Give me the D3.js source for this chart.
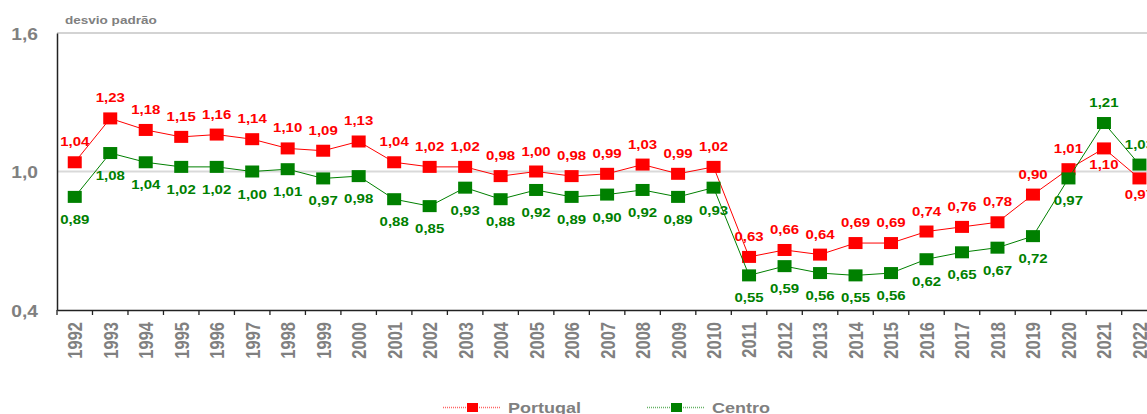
<!DOCTYPE html>
<html>
<head>
<meta charset="utf-8">
<script src="https://cdn.jsdelivr.net/npm/d3@7"></script>
<style>
  html, body { margin: 0; padding: 0; background: #fff; overflow: hidden; }
  svg { display: block; }
  text { font-family: "Liberation Sans", Arial, sans-serif; font-weight: bold; }
</style>
</head>
<body>
<svg id="chart" width="1147" height="414"></svg>
<script>
// Desvio padrão, 1992–2022
const years = [1992,1993,1994,1995,1996,1997,1998,1999,2000,2001,2002,2003,2004,2005,2006,2007,
               2008,2009,2010,2011,2012,2013,2014,2015,2016,2017,2018,2019,2020,2021,2022];
const portugal = [1.04,1.23,1.18,1.15,1.16,1.14,1.10,1.09,1.13,1.04,1.02,1.02,0.98,1.00,0.98,0.99,
                  1.03,0.99,1.02,0.63,0.66,0.64,0.69,0.69,0.74,0.76,0.78,0.90,1.01,1.10,0.97];
const centro = [0.89,1.08,1.04,1.02,1.02,1.00,1.01,0.97,0.98,0.88,0.85,0.93,0.88,0.92,0.89,0.90,
                0.92,0.89,0.93,0.55,0.59,0.56,0.55,0.56,0.62,0.65,0.67,0.72,0.97,1.21,1.03];
const yTicks = [0.4, 1.0, 1.6];
const seriesNames = ["Portugal", "Centro"];
const yTitle = "desvio padrão";

// years whose value label sits on the opposite side of the default
const portugalBelow = [2021, 2022];
const centroAbove = [2021, 2022];

const W = 1147, H = 414;
const RED = "#ff0000", GREEN = "#008000", GREY = "#808080";
const SX = 1.23; // horizontal glyph stretch

const fmt = v => d3.format(".2f")(v).replace(".", ",");

const svg = d3.select("#chart");

const plotLeft = 57, step = 35.49, plotTop = 33, plotBottom = 310;
const x = d3.scaleBand().domain(years).range([plotLeft, plotLeft + step * years.length]).padding(0);
const cx = d => x(d) + x.bandwidth() / 2;
const y = d3.scaleLinear().domain([0.4, 1.6]).range([plotBottom, plotTop]);

// top frame line and 1,0 gridline
svg.append("line").attr("x1", plotLeft).attr("x2", W + 20).attr("y1", y(1.6)).attr("y2", y(1.6))
  .attr("stroke", "#c4c4c4").attr("stroke-width", 1.3);
svg.append("line").attr("x1", plotLeft).attr("x2", W + 20).attr("y1", y(1.0)).attr("y2", y(1.0))
  .attr("stroke", "#d9d9d9").attr("stroke-width", 2);

// y axis
const yAxis = svg.append("g").attr("transform", `translate(${plotLeft},0)`)
  .call(d3.axisLeft(y).tickValues(yTicks).tickSize(0).tickFormat(v => d3.format(".1f")(v).replace(".", ",")));
yAxis.select(".domain").attr("stroke", "#222").attr("stroke-width", 1.5);
yAxis.selectAll("text")
  .attr("x", 0).attr("dy", null)
  .attr("transform", "translate(-19,6) scale(1.2,1)")
  .attr("fill", GREY).style("font-size", "16px").attr("text-anchor", "end")
  .style("font-family", "'Liberation Sans', Arial, sans-serif").style("font-weight", "bold");

// x axis (labels at band centres, ticks at band edges)
const xAxis = svg.append("g").attr("transform", `translate(0,${plotBottom})`)
  .call(d3.axisBottom(x).tickSize(0).tickSizeOuter(0));
xAxis.select(".domain").attr("stroke", "#222").attr("stroke-width", 1.5);
xAxis.selectAll("text")
  .attr("x", 0).attr("y", 0).attr("dy", "0.36em")
  .attr("transform", "translate(0,12) rotate(-90) scale(1,1.25)")
  .attr("text-anchor", "end").attr("fill", GREY)
  .style("font-size", "16.5px")
  .style("font-family", "'Liberation Sans', Arial, sans-serif").style("font-weight", "bold");
xAxis.selectAll(".edge").data(years.concat(["end"])).enter().append("line")
  .attr("class", "edge")
  .attr("x1", d => d === "end" ? x.range()[1] : x(d))
  .attr("x2", d => d === "end" ? x.range()[1] : x(d))
  .attr("y1", 0).attr("y2", 5).attr("stroke", "#222").attr("stroke-width", 1.3);

// axis title
svg.append("text").attr("transform", `translate(65,24) scale(${SX},1)`)
  .attr("fill", GREY).style("font-size", "11px").text(yTitle);

// series
const line = d3.line().x((d, i) => cx(years[i])).y(d => y(d));
function drawSeries(values, color) {
  svg.append("path").datum(values).attr("d", line)
    .attr("fill", "none").attr("stroke", color).attr("stroke-width", 1);
  svg.append("g").selectAll("rect").data(values).enter().append("rect")
    .attr("x", (d, i) => cx(years[i]) - 7).attr("y", d => y(d) - 6)
    .attr("width", 14).attr("height", 12).attr("fill", color);
}
drawSeries(portugal, RED);
drawSeries(centro, GREEN);

function drawLabels(values, color, flipped, defaultAbove) {
  svg.append("g").selectAll("text").data(values).enter().append("text")
    .attr("transform", (d, i) => {
      const yr = years[i];
      const isFlipped = flipped.includes(yr);
      const above = isFlipped ? !defaultAbove : defaultAbove;
      let dy;
      if (above) dy = -16;
      else dy = isFlipped ? 21 : 27;
      return `translate(${cx(yr)},${y(d) + dy}) scale(${SX},1)`;
    })
    .attr("text-anchor", "middle").attr("fill", color).style("font-size", "12.2px")
    .text(d => fmt(d));
}
drawLabels(portugal, RED, portugalBelow, true);
drawLabels(centro, GREEN, centroAbove, false);

// legend
const legend = [
  { name: seriesNames[0], color: RED, x0: 443 },
  { name: seriesNames[1], color: GREEN, x0: 647 }
];
const lg = svg.append("g");
legend.forEach(l => {
  lg.append("line").attr("x1", l.x0).attr("x2", l.x0 + 58).attr("y1", 407.5).attr("y2", 407.5)
    .attr("stroke", l.color).attr("stroke-width", 1.5).attr("stroke-dasharray", "1,1").attr("opacity", 0.6);
  lg.append("rect").attr("x", l.x0 + 24).attr("y", 403).attr("width", 11).attr("height", 9).attr("fill", l.color);
  lg.append("text").attr("transform", `translate(${l.x0 + 65},413) scale(1.2,1)`)
    .attr("fill", GREY).style("font-size", "15px").text(l.name);
});
</script>
</body>
</html>
